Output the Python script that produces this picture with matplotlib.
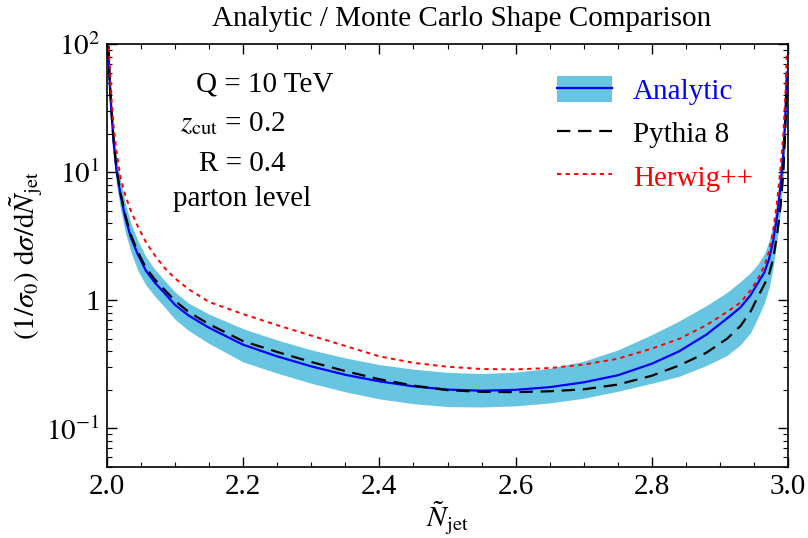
import numpy as np
import matplotlib
matplotlib.use('Agg')
import matplotlib.pyplot as plt
from matplotlib.patches import Patch
from matplotlib.lines import Line2D
from matplotlib.ticker import FixedLocator, FixedFormatter, MultipleLocator

plt.rcParams['font.family'] = ['Liberation Serif', 'DejaVu Serif']
plt.rcParams['mathtext.fontset'] = 'stix'

# Werte
n_jet = [2.002, 2.004, 2.007, 2.01, 2.014, 2.02, 2.027, 2.035, 2.045, 2.057,
         2.07, 2.085, 2.10, 2.12, 2.15, 2.2, 2.25, 2.3, 2.35, 2.4,
         2.45, 2.5, 2.55, 2.6, 2.65, 2.7, 2.75, 2.8, 2.84, 2.88,
         2.91, 2.93, 2.945, 2.955, 2.965, 2.972, 2.978, 2.984, 2.989, 2.993,
         2.996, 2.998]

analytic = [95, 50, 27, 16.5, 10.3, 6.6, 4.4, 3.1, 2.3, 1.71,
            1.38, 1.13, 0.92, 0.76, 0.61, 0.45, 0.365, 0.305, 0.262, 0.233,
            0.213, 0.201, 0.197, 0.200, 0.210, 0.229, 0.26, 0.32, 0.40, 0.54,
            0.72, 0.88, 1.1, 1.35, 1.65, 2.1, 2.9, 4.6, 8.0, 14,
            28, 60]

analytic_hi = [120, 62, 34, 21, 13.2, 8.5, 5.7, 4.0, 2.95, 2.2,
               1.75, 1.42, 1.16, 0.95, 0.78, 0.60, 0.49, 0.41, 0.355, 0.315,
               0.29, 0.274, 0.268, 0.275, 0.295, 0.335, 0.41, 0.54, 0.69, 0.91,
               1.15, 1.4, 1.65, 1.9, 2.3, 2.9, 3.9, 6.3, 11.5, 21,
               41, 90]

analytic_lo = [75, 40, 21, 12.8, 8.0, 5.1, 3.4, 2.4, 1.72, 1.32,
               1.08, 0.88, 0.71, 0.58, 0.46, 0.33, 0.27, 0.225, 0.193, 0.17,
               0.156, 0.148, 0.147, 0.150, 0.158, 0.172, 0.195, 0.225, 0.255, 0.31,
               0.37, 0.45, 0.56, 0.72, 0.95, 1.25, 1.8, 3.0, 5.2, 9.5,
               19, 42]

pythia = [97, 51, 28, 17, 10.6, 6.9, 4.6, 3.25, 2.4, 1.80,
          1.46, 1.2, 0.99, 0.81, 0.65, 0.48, 0.395, 0.33, 0.28, 0.242,
          0.216, 0.199, 0.193, 0.192, 0.195, 0.202, 0.22, 0.258, 0.31, 0.39,
          0.50, 0.63, 0.82, 1.05, 1.33, 1.6, 2.1, 3.3, 5.5, 10,
          22, 50]

herwig = [110, 70, 35, 22, 14.5, 9.0, 6.6, 5.0, 3.8, 2.85,
          2.25, 1.78, 1.48, 1.22, 0.97, 0.78, 0.64, 0.53, 0.44, 0.365,
          0.325, 0.303, 0.291, 0.289, 0.296, 0.315, 0.35, 0.42, 0.50, 0.64,
          0.81, 0.96, 1.2, 1.45, 1.85, 2.4, 3.5, 6.0, 11, 20,
          40, 85]

band_color = '#67c5e2'
fs = 21

fig = plt.figure(figsize=(8.08, 5.38), dpi=100)
ax = fig.add_axes([0.1324, 0.132, 0.843, 0.786])

ax.fill_between(n_jet, analytic_lo, analytic_hi, color=band_color, lw=0)
ax.plot(n_jet, analytic, color='#0000ff', lw=1.6)
ax.plot(n_jet, pythia, color='black', lw=1.6, dashes=(6, 3.5))
ax.plot(n_jet, herwig, color='#ff0000', lw=1.4, dashes=(2.2, 2.2))

ax.set_yscale('log')
ax.set_xlim(2.0, 3.0)
ax.set_ylim(0.05, 100)

ax.set_xticks([2.0, 2.2, 2.4, 2.6, 2.8, 3.0])
ax.set_xticklabels(['2.0', '2.2', '2.4', '2.6', '2.8', '3.0'])
ax.xaxis.set_minor_locator(MultipleLocator(0.05))

ax.yaxis.set_major_locator(FixedLocator([0.1, 1, 10, 100]))
ax.yaxis.set_major_formatter(FixedFormatter([r'$10^{-1}$', '1', r'$10^{1}$', r'$10^{2}$']))
ax.tick_params(axis='both', which='both', direction='in', top=True, right=True)
ax.tick_params(axis='both', which='major', length=7, width=1.0, labelsize=fs, pad=5)
ax.tick_params(axis='both', which='minor', length=3.5, width=0.8)
for s in ax.spines.values():
    s.set_linewidth(1.2)

fig.text(0.571, 0.964, 'Analytic / Monte Carlo Shape Comparison', ha='center', va='center', fontsize=fs)
ax.set_xlabel(r'$\tilde{N}_{\mathrm{jet}}$', fontsize=fs, labelpad=0)
ax.set_ylabel(r'$(1/\sigma_0)\ \mathrm{d}\sigma/\mathrm{d}\tilde{N}_{\mathrm{jet}}$', fontsize=fs, labelpad=1)

info = ['Q = 10 TeV', r'$z_{\mathrm{cut}}$ = 0.2', 'R = 0.4', 'parton level']
info_x = [0.232, 0.184, 0.198, 0.198]
info_y = [0.905, 0.811, 0.717, 0.634]
for t, xx, yy in zip(info, info_x, info_y):
    ax.text(xx, yy, t, transform=ax.transAxes, ha='center', va='center', fontsize=fs)

handles = [(Patch(facecolor=band_color, edgecolor='none'), Line2D([], [], color='#0000ff', lw=1.6)),
           Line2D([], [], color='black', lw=1.6, dashes=(6, 3.5)),
           Line2D([], [], color='#ff0000', lw=1.4, dashes=(2.2, 2.2))]
leg = ax.legend(handles, ['Analytic', 'Pythia 8', 'Herwig++'], loc='upper left',
                bbox_to_anchor=(0.622, 0.986), frameon=False, fontsize=fs,
                handlelength=1.9, handleheight=0.97, labelspacing=0.5, handletextpad=0.7,
                labelcolor=['#0000ff', 'black', '#ff0000'])

fig.savefig('out.png', dpi=100)
